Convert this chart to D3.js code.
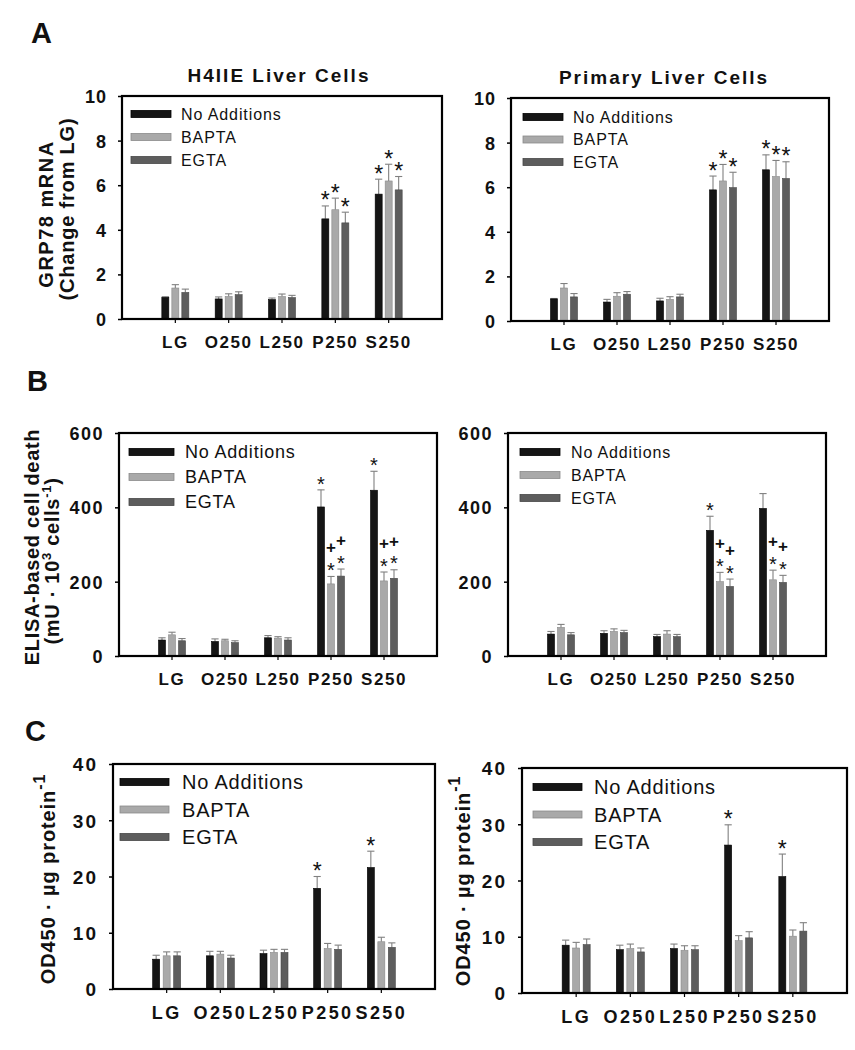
<!DOCTYPE html>
<html><head><meta charset="utf-8">
<script src="https://cdn.jsdelivr.net/npm/d3@7"></script>
<style>body{margin:0;background:#fff} svg{display:block}</style>
</head><body>
<svg id="chart" width="855" height="1050"></svg>
<script>
// ---------- DATA ----------
const categories = ["LG", "O250", "L250", "P250", "S250"];
const seriesNames = ["No Additions", "BAPTA", "EGTA"];

// Panel A – GRP78 mRNA (change from LG)
const aH4NoAdd = [0.97, 0.90, 0.87, 4.49, 5.60];
const aH4NoAddErr = [0.03, 0.09, 0.07, 0.58, 0.67];
const aH4Bapta = [1.39, 1.01, 1.01, 4.90, 6.19];
const aH4BaptaErr = [0.15, 0.12, 0.11, 0.52, 0.75];
const aH4Egta = [1.19, 1.09, 0.96, 4.31, 5.79];
const aH4EgtaErr = [0.15, 0.13, 0.10, 0.48, 0.60];
const aH4Sig = [["", "", "", "*", "*"], ["", "", "", "*", "*"], ["", "", "", "*", "*"]];

const aPrNoAdd = [0.99, 0.85, 0.90, 5.88, 6.78];
const aPrNoAddErr = [0.02, 0.12, 0.12, 0.62, 0.67];
const aPrBapta = [1.48, 1.11, 0.97, 6.28, 6.48];
const aPrBaptaErr = [0.20, 0.16, 0.12, 0.74, 0.72];
const aPrEgta = [1.08, 1.20, 1.08, 5.98, 6.39];
const aPrEgtaErr = [0.15, 0.12, 0.12, 0.69, 0.75];
const aPrSig = [["", "", "", "*", "*"], ["", "", "", "*", "*"], ["", "", "", "*", "*"]];

// Panel B – ELISA-based cell death
const bH4NoAdd = [43, 39, 49, 401, 446];
const bH4NoAddErr = [6, 7, 6, 46, 51];
const bH4Bapta = [57, 41, 48, 194, 202];
const bH4BaptaErr = [7, 4, 4, 20, 24];
const bH4Egta = [41, 36, 43, 215, 209];
const bH4EgtaErr = [6, 5, 6, 19, 23];
const bH4Sig = [["", "", "", "*", "*"], ["", "", "", "+*", "+*"], ["", "", "", "+*", "+*"]];

const bPrNoAdd = [59, 61, 52, 338, 397];
const bPrNoAddErr = [7, 7, 6, 38, 40];
const bPrBapta = [77, 66, 59, 200, 205];
const bPrBaptaErr = [8, 7, 9, 25, 26];
const bPrEgta = [57, 63, 52, 187, 198];
const bPrEgtaErr = [6, 6, 6, 20, 19];
const bPrSig = [["", "", "", "*", ""], ["", "", "", "+*", "+*"], ["", "", "", "+*", "+*"]];

// Panel C – OD450 per µg protein
const cH4NoAdd = [5.3, 5.9, 6.3, 17.9, 21.6];
const cH4NoAddErr = [0.7, 0.8, 0.6, 2.1, 2.9];
const cH4Bapta = [5.9, 6.2, 6.5, 7.2, 8.4];
const cH4BaptaErr = [0.7, 0.5, 0.55, 0.9, 0.8];
const cH4Egta = [5.9, 5.5, 6.5, 7.05, 7.4];
const cH4EgtaErr = [0.7, 0.5, 0.55, 0.75, 0.8];
const cH4Sig = [["", "", "", "*", "*"], ["", "", "", "", ""], ["", "", "", "", ""]];

const cPrNoAdd = [8.5, 7.7, 7.9, 26.3, 20.7];
const cPrNoAddErr = [0.9, 0.8, 0.8, 3.6, 4.0];
const cPrBapta = [8.0, 7.9, 7.6, 9.3, 10.1];
const cPrBaptaErr = [1.0, 0.8, 0.8, 0.9, 1.1];
const cPrEgta = [8.6, 7.3, 7.7, 9.8, 11.0];
const cPrEgtaErr = [1.0, 0.7, 0.7, 1.1, 1.5];
const cPrSig = [["", "", "", "*", "*"], ["", "", "", "", ""], ["", "", "", "", ""]];

const ticksA = [0, 2, 4, 6, 8, 10];
const ticksB = [0, 200, 400, 600];
const ticksC = [0, 10, 20, 30, 40];

// ---------- STYLE ----------
const FONT = "'Liberation Sans', Arial, Helvetica, sans-serif";
const fills = ["#151515", "#a9a9a9", "#5d5d5d"];
const strokes = ["#000000", "#8a8a8a", "#474747"];

const svg = d3.select("#chart").style("font-family", FONT);

function drawPanel(p) {
  const g = svg.append("g");
  const x = d3.scaleBand().domain(categories).range([p.x0, p.x1]).paddingOuter(0.5).paddingInner(0);
  const y = d3.scaleLinear().domain([0, p.yMax]).range([p.y1, p.y0]);
  const bw = 7, step = p.barStep || 10;

  // y axis
  const ya = g.append("g").attr("transform", `translate(${p.x0},0)`)
    .call(d3.axisLeft(y).tickValues(p.ticks).tickSize(4).tickPadding(11).tickFormat(d3.format("d")));
  ya.select(".domain").remove();
  ya.selectAll(".tick line").attr("stroke", "#000").attr("stroke-width", 1.5);
  ya.selectAll(".tick text").attr("fill", "#111").style("font-family", FONT)
    .style("font-weight", "bold").style("font-size", p.tickFs + "px").style("letter-spacing", p.tickLs + "px")
    .attr("dy", "0.36em");

  // x axis
  const xa = g.append("g").attr("transform", `translate(0,${p.y1})`)
    .call(d3.axisBottom(x).tickSize(4).tickPadding(0));
  xa.select(".domain").remove();
  xa.selectAll(".tick line").attr("stroke", "#000").attr("stroke-width", 1.2);
  xa.selectAll(".tick text").attr("fill", "#111").attr("y", p.catDy).attr("dy", "0.36em")
    .style("font-family", FONT).style("font-weight", "bold")
    .style("font-size", p.catFs + "px").style("letter-spacing", p.catLs + "px");

  // bars, error bars, significance marks
  p.series.forEach((s, si) => {
    const off = (si - 1) * step;
    categories.forEach((c, ci) => {
      const v = s.v[ci], e = s.e[ci];
      const cx = x(c) + x.bandwidth() / 2 + off;
      const top = y(v + e);
      g.append("line").attr("x1", cx).attr("x2", cx).attr("y1", y(v)).attr("y2", top)
        .attr("stroke", "#808080").attr("stroke-width", 1.1);
      g.append("line").attr("x1", cx - 3.6).attr("x2", cx + 3.6).attr("y1", top).attr("y2", top)
        .attr("stroke", "#808080").attr("stroke-width", 1.1);
      g.append("rect").attr("x", cx - bw / 2).attr("y", y(v)).attr("width", bw).attr("height", p.y1 - y(v))
        .attr("fill", fills[si]).attr("stroke", strokes[si]).attr("stroke-width", 0.6);
      const mark = s.sig[ci];
      if (mark) {
        const starC = top - 11;
        if (mark.includes("*")) {
          g.append("text").attr("x", cx).attr("y", starC + 0.585 * p.starFs).attr("text-anchor", "middle")
            .style("font-size", p.starFs + "px").attr("fill", "#111").text("*");
        }
        if (mark.includes("+")) {
          const plusC = starC - 18;
          g.append("text").attr("x", cx).attr("y", plusC + 0.34 * 17).attr("text-anchor", "middle")
            .style("font-size", "17px").style("font-weight", "bold").attr("fill", "#111").text("+");
        }
      }
    });
  });

  // frame
  g.append("rect").attr("x", p.x0).attr("y", p.y0).attr("width", p.x1 - p.x0).attr("height", p.y1 - p.y0)
    .attr("fill", "none").attr("stroke", "#000").attr("stroke-width", 2.2);

  // legend
  const L = p.legend;
  seriesNames.forEach((n, i) => {
    const ly = L.y + i * L.dy;
    g.append("rect").attr("x", L.x).attr("y", ly - 3.5).attr("width", L.w).attr("height", 7)
      .attr("fill", fills[i]).attr("stroke", strokes[i]).attr("stroke-width", 0.8);
    g.append("text").attr("x", L.tx).attr("y", ly + 0.36 * L.fs)
      .style("font-size", L.fs + "px").style("letter-spacing", L.ls + "px").attr("fill", "#111").text(n);
  });

  // title
  if (p.title) {
    g.append("text").attr("x", p.title.x).attr("y", p.title.y).attr("text-anchor", "middle")
      .style("font-size", "19px").style("font-weight", "bold").style("letter-spacing", "2px")
      .attr("fill", "#111").text(p.title.text);
  }

  // y-axis titles (rotated)
  if (p.yTitle) {
    p.yTitle.forEach(t => {
      const tx = g.append("text").attr("transform", `translate(${t.x},${t.y}) rotate(-90)`)
        .attr("text-anchor", "middle").style("font-size", t.fs + "px").style("font-weight", "bold")
        .style("letter-spacing", t.ls + "px").attr("fill", "#111");
      t.parts.forEach(pt => {
        const ts = tx.append("tspan").text(pt.t);
        if (pt.sup) ts.attr("dy", pt.dy).style("font-size", pt.fs + "px");
        else if (pt.dy) ts.attr("dy", pt.dy);
      });
    });
  }
}

function mk(v1, e1, v2, e2, v3, e3, sig) {
  return [{v: v1, e: e1, sig: sig[0]}, {v: v2, e: e2, sig: sig[1]}, {v: v3, e: e3, sig: sig[2]}];
}

// Panel letters
[["A", 31, 43], ["B", 27, 391], ["C", 25, 741]].forEach(([t, x, y]) => {
  svg.append("text").attr("x", x).attr("y", y).style("font-size", "29px").style("font-weight", "bold")
    .attr("fill", "#111").text(t);
});

// A left
drawPanel({
  x0: 122, x1: 442, y0: 96, y1: 319, yMax: 10, ticks: ticksA,
  tickFs: 18, tickLs: 1, catFs: 17, catLs: 1.6, catDy: 23, starFs: 23,
  series: mk(aH4NoAdd, aH4NoAddErr, aH4Bapta, aH4BaptaErr, aH4Egta, aH4EgtaErr, aH4Sig),
  legend: {x: 131, y: 114, dy: 23, w: 40, tx: 181, fs: 16, ls: 0.9},
  title: {x: 279, y: 82, text: "H4IIE Liver Cells"},
  yTitle: [
    {x: 53, y: 214, fs: 20, ls: 1.5, parts: [{t: "GRP78 mRNA"}]},
    {x: 74, y: 209, fs: 20, ls: 0.8, parts: [{t: "(Change from LG)"}]}
  ]
});

// A right
drawPanel({
  x0: 511, x1: 829, y0: 98, y1: 321, yMax: 10, ticks: ticksA,
  tickFs: 18, tickLs: 1, catFs: 17, catLs: 1.6, catDy: 23, starFs: 23,
  series: mk(aPrNoAdd, aPrNoAddErr, aPrBapta, aPrBaptaErr, aPrEgta, aPrEgtaErr, aPrSig),
  legend: {x: 523, y: 117, dy: 22.5, w: 40, tx: 573, fs: 16, ls: 0.9},
  title: {x: 664, y: 84, text: "Primary Liver Cells"}
});

// B left
drawPanel({
  x0: 119, x1: 437, y0: 433, y1: 656, yMax: 600, ticks: ticksB,
  tickFs: 18, tickLs: 1.5, catFs: 17, catLs: 1.6, catDy: 23, starFs: 20,
  series: mk(bH4NoAdd, bH4NoAddErr, bH4Bapta, bH4BaptaErr, bH4Egta, bH4EgtaErr, bH4Sig),
  legend: {x: 129, y: 452, dy: 25, w: 45, tx: 185, fs: 18, ls: 0.8},
  yTitle: [
    {x: 39, y: 547, fs: 20, ls: 0.7, parts: [{t: "ELISA-based cell death"}]},
    {x: 59, y: 561, fs: 20, ls: 0.7, parts: [
      {t: "(mU · 10"}, {t: "3", sup: true, dy: -8, fs: 13}, {t: " cells", dy: 8},
      {t: "-1", sup: true, dy: -8, fs: 13}, {t: ")", dy: 8}
    ]}
  ]
});

// B right
drawPanel({
  x0: 508, x1: 826, y0: 433, y1: 656, yMax: 600, ticks: ticksB,
  tickFs: 18, tickLs: 1.5, catFs: 17, catLs: 1.6, catDy: 23, starFs: 20,
  series: mk(bPrNoAdd, bPrNoAddErr, bPrBapta, bPrBaptaErr, bPrEgta, bPrEgtaErr, bPrSig),
  legend: {x: 520, y: 452, dy: 23, w: 40, tx: 571, fs: 16, ls: 0.85}
});

// C left
drawPanel({
  x0: 113, x1: 435, y0: 764, y1: 989, yMax: 40, ticks: ticksC,
  tickFs: 19, tickLs: 2, catFs: 18, catLs: 2.4, catDy: 24, starFs: 23, barStep: 10.5,
  series: mk(cH4NoAdd, cH4NoAddErr, cH4Bapta, cH4BaptaErr, cH4Egta, cH4EgtaErr, cH4Sig),
  legend: {x: 120, y: 782, dy: 27.5, w: 49, tx: 182, fs: 20, ls: 0.8},
  yTitle: [
    {x: 55, y: 879, fs: 20, ls: 0.9, parts: [
      {t: "OD450 · µg protein"}, {t: "-1", sup: true, dy: -10, fs: 16}
    ]}
  ]
});

// C right
drawPanel({
  x0: 522, x1: 847, y0: 768, y1: 993, yMax: 40, ticks: ticksC,
  tickFs: 19, tickLs: 2, catFs: 18, catLs: 2.4, catDy: 24, starFs: 23, barStep: 10.5,
  series: mk(cPrNoAdd, cPrNoAddErr, cPrBapta, cPrBaptaErr, cPrEgta, cPrEgtaErr, cPrSig),
  legend: {x: 533, y: 787, dy: 27.5, w: 49, tx: 594, fs: 20, ls: 0.8},
  yTitle: [
    {x: 470, y: 881, fs: 20, ls: 0.9, parts: [
      {t: "OD450 · µg protein"}, {t: "-1", sup: true, dy: -10, fs: 16}
    ]}
  ]
});
</script>
</body></html>
